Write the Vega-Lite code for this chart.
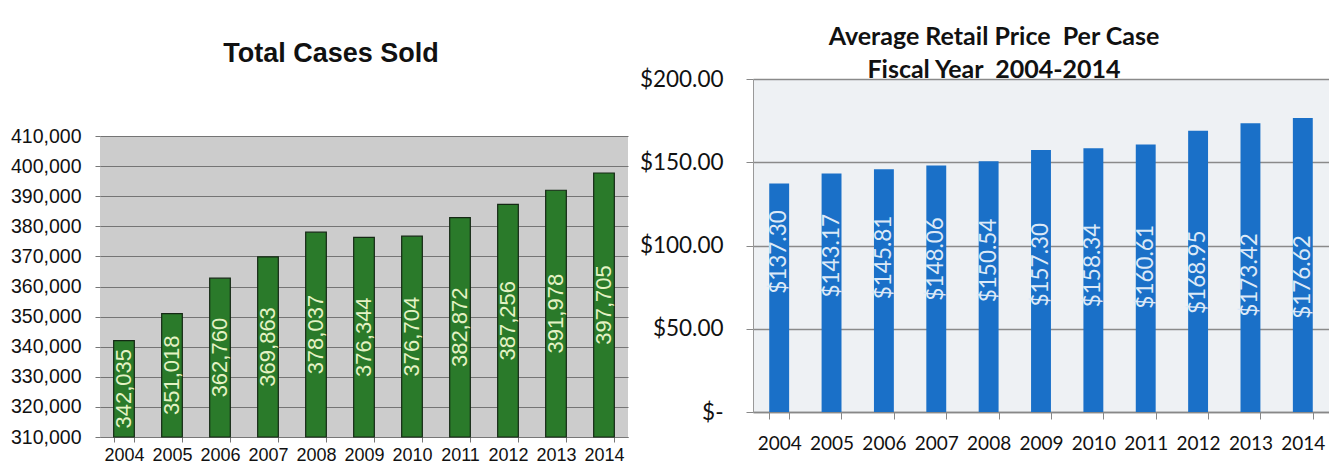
{
  "$schema": "https://vega.github.io/schema/vega-lite/v6.json",
  "background": "white",
  "padding": {"left": 5, "top": 24, "right": 0, "bottom": 0},
  "spacing": 11,
  "datasets": {
    "cases": [
      {"year": "2004", "cases": 342035},
      {"year": "2005", "cases": 351018},
      {"year": "2006", "cases": 362760},
      {"year": "2007", "cases": 369863},
      {"year": "2008", "cases": 378037},
      {"year": "2009", "cases": 376344},
      {"year": "2010", "cases": 376704},
      {"year": "2011", "cases": 382872},
      {"year": "2012", "cases": 387256},
      {"year": "2013", "cases": 391978},
      {"year": "2014", "cases": 397705}
    ],
    "price": [
      {"year": "2004", "price": 137.30},
      {"year": "2005", "price": 143.17},
      {"year": "2006", "price": 145.81},
      {"year": "2007", "price": 148.06},
      {"year": "2008", "price": 150.54},
      {"year": "2009", "price": 157.30},
      {"year": "2010", "price": 158.34},
      {"year": "2011", "price": 160.61},
      {"year": "2012", "price": 168.95},
      {"year": "2013", "price": 173.42},
      {"year": "2014", "price": 176.62}
    ],
    "plotTop": [{"from": 410000, "to": 428937}]
  },
  "config": {"view": {"stroke": null}},
  "hconcat": [
    {
      "width": 528,
      "height": 358,
      "view": {"fill": "#cccccc", "stroke": null},
      "title": {"text": ["", "Total Cases Sold"], "font": "Liberation Sans", "fontSize": 27, "fontWeight": "bold", "color": "#111111", "lineHeight": 16, "baseline": "bottom", "anchor": "middle", "dx": -33, "offset": -16},
      "data": {"name": "cases"},
      "layer": [
        {
          "data": {"name": "plotTop"},
          "mark": {"type": "rect", "fill": "white", "stroke": null},
          "encoding": {
            "y": {"field": "from", "type": "quantitative", "scale": {"domain": [310000, 428937], "nice": false, "zero": false}, "axis": null},
            "y2": {"field": "to"}
          }
        },
        {
          "mark": {"type": "bar", "fill": "#2a7a2a", "stroke": "#142814", "strokeWidth": 1.2},
          "encoding": {
            "x": {"field": "year", "type": "ordinal", "scale": {"paddingInner": 0.57, "paddingOuter": 0.285},
              "axis": {"title": null, "labelFont": "Liberation Sans", "labelFontSize": 18, "labelColor": "#111111", "labelAngle": 0, "tickBand": "extent", "tickSize": 5, "tickColor": "#777777", "domainColor": "#777777", "labelPadding": 4, "labelOverlap": false}},
            "y": {"field": "cases", "type": "quantitative", "stack": null, "scale": {"domain": [310000, 428937], "nice": false, "zero": false},
              "axis": {"orient": "left", "title": null, "values": [310000, 320000, 330000, 340000, 350000, 360000, 370000, 380000, 390000, 400000, 410000], "format": ",d", "labelFont": "Liberation Sans", "labelFontSize": 19.5, "labelColor": "#111111", "grid": true, "gridColor": "#747474", "gridWidth": 1, "tickSize": 5, "tickColor": "#777777", "domain": false, "labelPadding": 14, "minExtent": 95, "maxExtent": 95}}
          }
        },
        {
          "mark": {"type": "text", "angle": -90, "align": "center", "baseline": "middle", "font": "Liberation Sans", "fontSize": 22, "fill": "#e4f2c4"},
          "encoding": {
            "x": {"field": "year", "type": "ordinal"},
            "y": {"field": "cases", "type": "quantitative", "stack": null, "scale": {"domain": [310000, 547874], "nice": false, "zero": false}, "axis": null},
            "text": {"field": "cases", "type": "quantitative", "format": ",d"}
          }
        }
      ],
      "resolve": {"scale": {"y": "independent"}}
    },
    {
      "width": 576,
      "height": 333,
      "view": {"fill": "#eef1f4", "stroke": null},
      "title": {"text": ["Average Retail Price\u00a0 Per Case", "Fiscal Year\u00a0 2004-2014"], "font": "Lato", "fontSize": 25, "fontWeight": "bold", "color": "#111111", "lineHeight": 33, "baseline": "bottom", "anchor": "middle", "dx": -47, "offset": -40},
      "data": {"name": "price"},
      "layer": [
        {
          "mark": {"type": "bar", "fill": "#1a70c8"},
          "encoding": {
            "x": {"field": "year", "type": "ordinal", "scale": {"paddingInner": 0.62, "paddingOuter": 0.31},
              "axis": {"title": null, "labelFont": "Lato", "labelFontSize": 19, "labelColor": "#111111", "labelAngle": 0, "tickBand": "extent", "tickSize": 7, "tickColor": "#888888", "domainColor": "#888888", "domainWidth": 1.5, "labelPadding": 15, "labelOverlap": false}},
            "y": {"field": "price", "type": "quantitative", "stack": null, "scale": {"domain": [0, 200], "nice": false},
              "axis": {"orient": "left", "title": null, "values": [0, 50, 100, 150, 200], "labelExpr": "datum.value == 0 ? '$-\u00a0\u00a0\u00a0' : format(datum.value, '$,.2f')", "labelFont": "Lato", "labelFontSize": 22.5, "labelColor": "#111111", "grid": true, "gridColor": "#8a8a8a", "gridWidth": 1.5, "tickSize": 7, "tickColor": "#888888", "domainColor": "#999999", "labelPadding": 23, "minExtent": 105, "maxExtent": 105}}
          }
        },
        {
          "mark": {"type": "text", "angle": -90, "align": "center", "baseline": "middle", "font": "Lato", "fontSize": 22.5, "fill": "#dce9f7"},
          "encoding": {
            "x": {"field": "year", "type": "ordinal"},
            "y": {"field": "price", "type": "quantitative", "stack": null, "scale": {"domain": [-135, 389], "reverse": true, "nice": false, "zero": false}, "axis": null},
            "text": {"field": "price", "type": "quantitative", "format": "$.2f"}
          }
        }
      ],
      "resolve": {"scale": {"y": "independent"}}
    }
  ]
}
